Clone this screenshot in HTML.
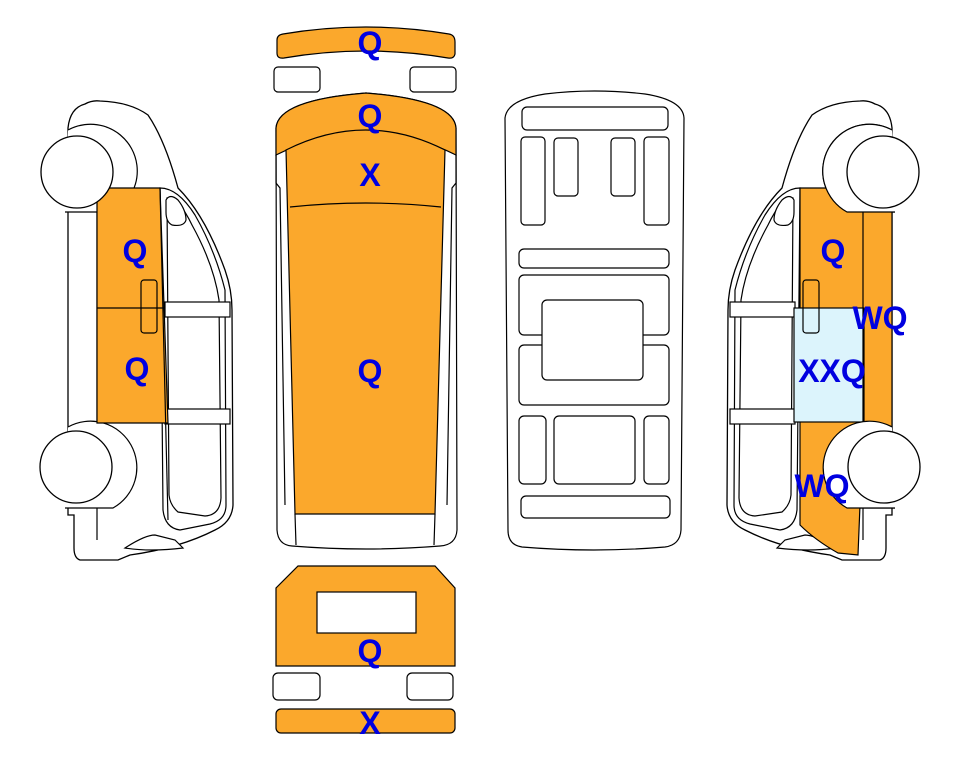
<!DOCTYPE html>
<html><head><meta charset="utf-8"><style>
html,body{margin:0;padding:0;background:#fff;width:963px;height:768px;overflow:hidden}
svg{display:block}
text{font-family:"Liberation Sans",Arial,sans-serif;font-weight:bold;font-size:32px;fill:#0000e0;text-anchor:middle}
</style></head><body>
<svg width="963" height="768" viewBox="0 0 963 768" xmlns="http://www.w3.org/2000/svg">
<defs>
<g id="side">
  <path d="M68,140 L68,128 Q70,108 85,104 Q92,100 100,101 Q130,102 148,115 Q165,140 178,188 Q205,215 225,270 Q232,290 232,310 L233,505 Q232,522 215,530 Q180,548 130,555 L118,560 L80,560 Q74,558 74,548 L74,515 L68,515 Z" fill="#fff" stroke="#000" stroke-width="1.3"/>
  <path d="M97,188 L97,540" stroke="#000" fill="none" stroke-width="1.2"/>
  <path d="M160,188 Q178,188 195,215 Q215,250 225,290 L226,505 Q226,520 210,524 L180,530 Q165,528 163,510 Z" fill="none" stroke="#000" stroke-width="1.2"/>
  <path d="M167,198 Q178,196 192,225 Q214,265 219,300 L221,498 Q220,515 205,516 L178,512 Q170,505 169,495 Z" fill="none" stroke="#000" stroke-width="1.2"/>
  <path d="M166,200 Q170,193 178,200 Q186,210 186,220 Q184,227 172,225 Q166,222 166,212 Z" fill="#fff" stroke="#000" stroke-width="1.2"/>
  <rect x="165" y="302" width="65" height="15" fill="#fff" stroke="#000" stroke-width="1.2"/>
  <rect x="165" y="409" width="65" height="15" fill="#fff" stroke="#000" stroke-width="1.2"/>
  <path d="M125,548 Q145,535 155,535 L175,540 L183,548 Q150,552 125,548 Z" fill="#fff" stroke="#000" stroke-width="1.2"/>
  <path d="M68,130 A42,42 0 0 1 113,212 L65,212" fill="#fff" stroke="#000" stroke-width="1.2"/>
  <path d="M68,427 A42,42 0 0 1 113,508 L65,508" fill="#fff" stroke="#000" stroke-width="1.2"/>
</g>
</defs>

<!-- LEFT SIDE -->
<use href="#side"/>
<path d="M97,188 L160,188 L168,423 L97,423 Z" fill="#fba82c" stroke="#000" stroke-width="1.2"/>
<line x1="97" y1="308" x2="165" y2="308" stroke="#000" stroke-width="1.2"/>
<rect x="141" y="280" width="16" height="53" rx="3" fill="none" stroke="#000" stroke-width="1.2"/>
<path d="M160,188 L168,520" stroke="#000" fill="none" stroke-width="1.2"/>
<circle cx="77" cy="172" r="36" fill="#fff" stroke="#000" stroke-width="1.3"/>
<circle cx="76" cy="467" r="36" fill="#fff" stroke="#000" stroke-width="1.3"/>
<text x="135" y="262">Q</text>
<text x="137" y="380">Q</text>

<!-- RIGHT SIDE -->
<g transform="translate(960,0) scale(-1,1)"><use href="#side"/></g>
<path d="M800,188 L863,188 L863,210 L892,212 L892,432 L863,432 L860,505 L858,555 L838,553 Q815,540 800,525 Z" fill="#fba82c" stroke="#000" stroke-width="1.2"/>
<rect x="794" y="308" width="70" height="114" fill="#dcf4fc" stroke="#000" stroke-width="1.2"/>
<line x1="863" y1="188" x2="863" y2="432" stroke="#000" stroke-width="1.2"/>
<rect x="803" y="280" width="16" height="53" rx="3" fill="none" stroke="#000" stroke-width="1.2"/>
<path d="M892,130 A42,42 0 0 0 847,212 L895,212" fill="#fff" stroke="#000" stroke-width="1.2"/>
<path d="M892,427 A42,42 0 0 0 847,508 L895,508" fill="#fff" stroke="#000" stroke-width="1.2"/>
<circle cx="883" cy="172" r="36" fill="#fff" stroke="#000" stroke-width="1.3"/>
<circle cx="884" cy="467" r="36" fill="#fff" stroke="#000" stroke-width="1.3"/>
<text x="833" y="262">Q</text>
<text x="880" y="329">WQ</text>
<text x="832" y="382">XXQ</text>
<text x="822" y="497">WQ</text>

<!-- TOP VIEW -->
<path d="M277,40 Q277,35 283,34 Q366,20 449,34 Q455,35 455,42 L455,54 Q454,59 448,58 Q366,44 284,58 Q277,59 277,53 Z" fill="#fba82c" stroke="#000" stroke-width="1.2"/>
<rect x="274" y="67" width="46" height="25" rx="4" fill="#fff" stroke="#000" stroke-width="1.2"/>
<rect x="410" y="67" width="46" height="25" rx="4" fill="#fff" stroke="#000" stroke-width="1.2"/>
<path d="M276,128 Q278,100 366,93 Q454,100 456,128 L457,530 Q456,545 440,546 Q366,552 292,546 Q278,545 277,530 Z" fill="#fff" stroke="#000" stroke-width="1.2"/>
<path d="M276,128 Q278,100 366,93 Q454,100 456,128 L456,155 Q366,110 276,155 Z" fill="#fba82c" stroke="#000" stroke-width="1.2"/>
<path d="M286,150 Q366,110 445,150 L435,514 L295,514 Z" fill="#fba82c" stroke="#000" stroke-width="1.2"/>
<path d="M290,207 Q366,199 441,207" fill="none" stroke="#000" stroke-width="1.2"/>
<path d="M276,155 L276,183 L280,188 L285,505 M456,155 L456,183 L452,188 L447,505" fill="none" stroke="#000" stroke-width="1.2"/>
<path d="M295,514 L296,545 M435,514 L434,545" stroke="#000" stroke-width="1.2"/>
<text x="370" y="54">Q</text>
<text x="370" y="127">Q</text>
<text x="370" y="186">X</text>
<text x="370" y="382">Q</text>

<!-- BOTTOM VIEW -->
<path d="M505,118 Q507,100 545,94 Q594,88 645,94 Q683,100 684,118 L681,530 Q680,545 665,547 Q594,553 522,547 Q508,545 508,530 Z" fill="#fff" stroke="#000" stroke-width="1.2"/>
<g fill="none" stroke="#000" stroke-width="1.2">
<rect x="522" y="107" width="146" height="23" rx="5"/>
<rect x="521" y="137" width="24" height="88" rx="4"/>
<rect x="554" y="138" width="24" height="58" rx="4"/>
<rect x="611" y="138" width="24" height="58" rx="4"/>
<rect x="644" y="137" width="25" height="88" rx="4"/>
<rect x="519" y="249" width="150" height="19" rx="5"/>
<rect x="519" y="275" width="150" height="60" rx="5"/>
<rect x="519" y="345" width="150" height="60" rx="5"/>
<rect x="542" y="300" width="101" height="80" rx="5" fill="#fff"/>
<rect x="519" y="416" width="27" height="68" rx="5"/>
<rect x="554" y="416" width="81" height="68" rx="5"/>
<rect x="644" y="416" width="25" height="68" rx="5"/>
<rect x="521" y="496" width="149" height="22" rx="5"/>
</g>

<!-- REAR VIEW -->
<path d="M298,566 L435,566 L455,588 L455,666 L276,666 L276,588 Z" fill="#fba82c" stroke="#000" stroke-width="1.2"/>
<rect x="317" y="592" width="99" height="41" fill="#fff" stroke="#000" stroke-width="1.2"/>
<rect x="273" y="673" width="47" height="27" rx="5" fill="#fff" stroke="#000" stroke-width="1.2"/>
<rect x="407" y="673" width="46" height="27" rx="5" fill="#fff" stroke="#000" stroke-width="1.2"/>
<rect x="276" y="709" width="179" height="24" rx="5" fill="#fba82c" stroke="#000" stroke-width="1.2"/>
<text x="370" y="662">Q</text>
<text x="370" y="734">X</text>
</svg>
</body></html>
